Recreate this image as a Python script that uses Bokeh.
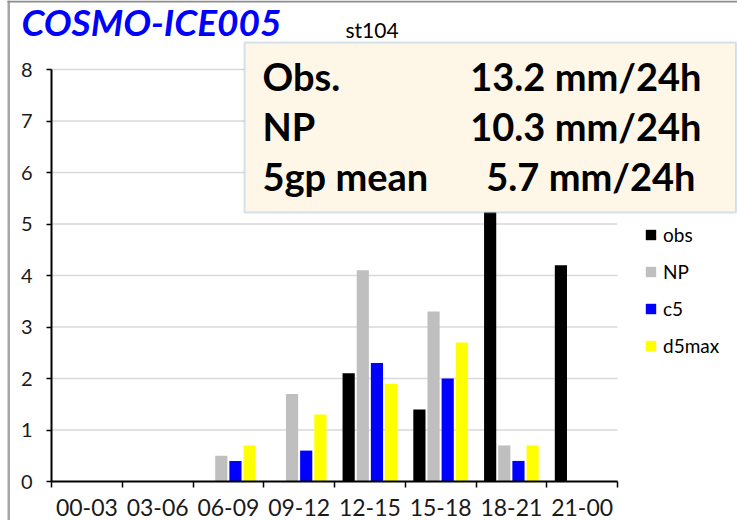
from bokeh.plotting import figure
from bokeh.models import (ColumnDataSource, Range1d, FixedTicker, Label,
                          BoxAnnotation, Legend, LegendItem)
from bokeh.transform import dodge
from bokeh.embed import file_html
from bokeh.resources import INLINE

# ---------------- data ----------------
categories = ["00-03", "03-06", "06-09", "09-12", "12-15", "15-18", "18-21", "21-00"]
obs = [0, 0, 0, 0, 2.1, 1.4, 5.5, 4.2]
np_vals = [0, 0, 0.5, 1.7, 4.1, 3.3, 0.7, 0]
c5 = [0, 0, 0.4, 0.6, 2.3, 2.0, 0.4, 0]
d5max = [0, 0, 0.7, 1.3, 1.9, 2.7, 0.7, 0]
series_names = ["obs", "NP", "c5", "d5max"]
series_colors = ["#000000", "#BFBFBF", "#0000FF", "#FFFF00"]
y_ticks = [0, 1, 2, 3, 4, 5, 6, 7, 8]
title_text = "COSMO-ICE005"
station_text = "st104"
summary_names = ["Obs.", "NP", "5gp mean"]
summary_values = ["13.2 mm/24h", "10.3 mm/24h", "5.7 mm/24h"]

FONT = "Lato"

# ---------------- layout (page pixels) ----------------
W, H = 737, 520
AX_L, AX_R = 51, 617      # x pixels of category 0 start / last category end
AX_B, AX_T = 481, 69      # y pixels of value 0 / value 8
NCAT = len(categories)
YMAX = y_ticks[-1]
px_x = (AX_R - AX_L) / NCAT
px_y = (AX_B - AX_T) / YMAX

x_range = Range1d(-AX_L / px_x, (W - AX_L) / px_x)
y_range = Range1d(-(H - AX_B) / px_y, YMAX + AX_T / px_y)

p = figure(width=W, height=H, output_backend="svg", toolbar_location=None,
           x_range=x_range, y_range=y_range,
           min_border=0, min_border_left=0, min_border_right=0,
           min_border_top=0, min_border_bottom=0)
p.outline_line_color = None
p.background_fill_color = "white"
p.border_fill_color = "white"

idx = [i + 0.5 for i in range(NCAT)]
src = ColumnDataSource(dict(x=idx, obs=obs, NP=np_vals, c5=c5, d5max=d5max))

# gridlines limited to the plot area
p.xgrid.visible = False
p.ygrid.visible = False
grid_src = ColumnDataSource(dict(y=y_ticks[1:], x0=[0] * (len(y_ticks) - 1),
                                 x1=[NCAT] * (len(y_ticks) - 1)))
p.segment(x0="x0", x1="x1", y0="y", y1="y", source=grid_src,
          line_color="#D9D9D9", line_width=1.5)

offsets = [-0.3, -0.1, 0.1, 0.3]
renderers = []
for name, col, off in zip(series_names, series_colors, offsets):
    r = p.vbar(x=dodge("x", off, range=p.x_range), top=name, width=0.172,
               source=src, fill_color=col, line_color=None)
    renderers.append(r)

# axes at fixed data locations
xa = p.xaxis[0]
xa.fixed_location = 0
xa.bounds = (0, NCAT)
xa.ticker = FixedTicker(ticks=idx, minor_ticks=list(range(NCAT + 1)))
xa.major_label_overrides = {v: c for v, c in zip(idx, categories)}
xa.major_tick_line_color = None
xa.major_tick_out = 6
xa.minor_tick_line_color = "black"
xa.minor_tick_line_width = 1.5
xa.minor_tick_out = 6
xa.minor_tick_in = 0
xa.axis_line_color = "black"
xa.axis_line_width = 2
xa.major_label_text_font = FONT
xa.major_label_text_font_size = "23px"
xa.major_label_text_color = "#1a1a1a"
xa.major_label_standoff = 11

ya = p.yaxis[0]
ya.fixed_location = 0
ya.bounds = (0, YMAX)
ya.ticker = FixedTicker(ticks=y_ticks)
ya.minor_tick_line_color = None
ya.major_tick_line_color = "black"
ya.major_tick_line_width = 1.5
ya.major_tick_out = 5
ya.major_tick_in = 0
ya.axis_line_color = "black"
ya.axis_line_width = 2
ya.major_label_text_font = FONT
ya.major_label_text_font_size = "20px"
ya.major_label_text_color = "#1a1a1a"
ya.major_label_standoff = 14


def sx(x_abs):
    return x_abs


def sy(y_abs):
    return H - y_abs


# legend
legend = Legend(items=[LegendItem(label=n, renderers=[r]) for n, r in zip(series_names, renderers)],
                location=(sx(644), sy(357)), orientation="vertical",
                glyph_width=13, glyph_height=13, label_height=20, spacing=14,
                label_standoff=6, padding=0, margin=0,
                border_line_color=None, background_fill_alpha=0,
                label_text_font=FONT, label_text_font_size="19px",
                label_text_color="black")
p.add_layout(legend, "center")

# page border lines (top and left)
p.add_layout(BoxAnnotation(left=sx(7), right=sx(9.5), top=sy(0), bottom=sy(520),
                           left_units="screen", right_units="screen",
                           top_units="screen", bottom_units="screen",
                           fill_color="#A6A6A6", fill_alpha=1, line_color=None))
p.add_layout(BoxAnnotation(left=sx(7), right=sx(737), top=sy(0), bottom=sy(2),
                           left_units="screen", right_units="screen",
                           top_units="screen", bottom_units="screen",
                           fill_color="#8C8C8C", fill_alpha=1, line_color=None))

# title + station  (label y is placed ~0.385 em above the wanted baseline)
p.add_layout(Label(x=sx(21), y=sy(21), x_units="screen", y_units="screen",
                   text=title_text, text_font=FONT, text_font_style="bold italic",
                   text_font_size="37px", text_color="#0000FF", text_baseline="alphabetic"))
p.add_layout(Label(x=sx(345), y=sy(28.5), x_units="screen", y_units="screen",
                   text=station_text, text_font=FONT, text_font_size="21px",
                   text_color="black", text_baseline="alphabetic"))

# summary box
p.add_layout(BoxAnnotation(left=sx(244), right=sx(735.5), top=sy(42), bottom=sy(212),
                           left_units="screen", right_units="screen",
                           top_units="screen", bottom_units="screen",
                           fill_color="#FEF7E8", fill_alpha=1,
                           line_color="#74A2D6", line_width=2))
baselines = [75.5, 125.5, 175.5]
value_right = [701, 701, 695]
for name, val, b, vr in zip(summary_names, summary_values, baselines, value_right):
    p.add_layout(Label(x=sx(262), y=sy(b), x_units="screen", y_units="screen",
                       text=name, text_font=FONT, text_font_style="bold",
                       text_font_size="38px", text_color="black", text_baseline="alphabetic"))
    p.add_layout(Label(x=sx(vr), y=sy(b), x_units="screen", y_units="screen",
                       text=val, text_font=FONT, text_font_style="bold", text_align="right",
                       text_font_size="38px", text_color="black", text_baseline="alphabetic"))

open("out.html", "w").write(file_html(p, INLINE))
